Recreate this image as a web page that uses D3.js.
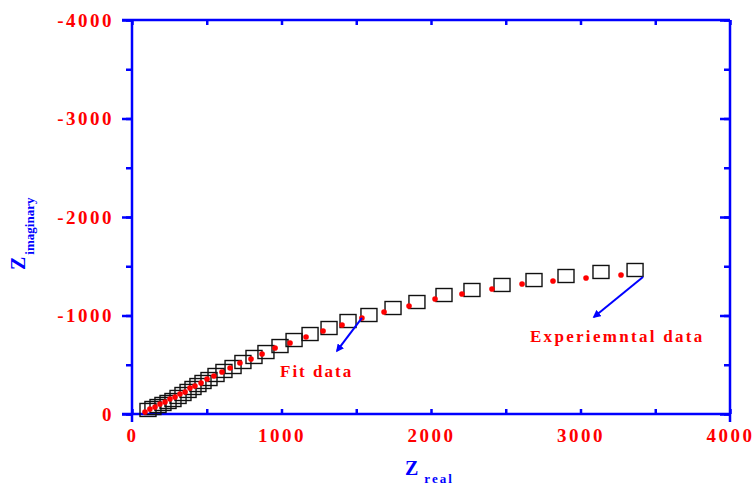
<!DOCTYPE html>
<html lang="en">
  <head>
    <meta charset="utf-8">
    <title>Nyquist plot: experimental and fit data</title>
    <style>
      body { margin: 0; background: #fff; }
      text { font-family: "Liberation Serif", "Times New Roman", serif; font-weight: bold; }
    </style>
  </head>
  <body>
    <div id="viz"></div>
    <script src="https://cdn.jsdelivr.net/npm/d3@7/dist/d3.min.js"></script>
    <script>
      // experimental data (open squares)
      const expReal = [3365, 3137, 2903, 2689, 2475, 2274, 2087, 1906, 1746, 1585, 1445, 1318, 1191, 1084, 990, 896, 816, 742, 676, 615, 562, 515, 475, 441, 408, 375, 341, 308, 274, 241, 207, 174, 140, 107]
      const expImag = [-1462, -1442, -1401, -1360, -1310, -1259, -1208, -1137, -1076, -1005, -944, -873, -812, -751, -690, -629, -579, -528, -477, -437, -396, -355, -325, -294, -264, -234, -203, -173, -142, -122, -102, -81, -61, -41]
      // fit data (red dots)
      const fitReal = [3271, 3037, 2816, 2609, 2408, 2207, 2027, 1853, 1686, 1538, 1405, 1278, 1164, 1057, 957, 870, 796, 722, 656, 602, 548, 502, 462, 421, 388, 355, 321, 288, 254, 221, 187, 154, 120, 87]
      const fitImag = [-1411, -1381, -1350, -1320, -1269, -1218, -1168, -1096, -1036, -975, -904, -843, -782, -721, -670, -609, -558, -518, -467, -426, -386, -355, -315, -284, -264, -223, -203, -173, -152, -122, -102, -71, -51, -20]
      const xTicks = [0, 1000, 2000, 3000, 4000]
      const yTicks = [0, -1000, -2000, -3000, -4000]
      const minorStep = 500

      const width = 755
      const height = 488
      const margin = { top: 20, right: 25, bottom: 74, left: 132 }
      const innerW = width - margin.left - margin.right
      const innerH = height - margin.top - margin.bottom
      const blue = '#0000ff'
      const red = '#ff0000'
      const plain = d => String(d)

      const svg = d3.select('#viz').append('svg').attr('width', width).attr('height', height)
      const g = svg.append('g').attr('transform', `translate(${margin.left},${margin.top})`)

      const x = d3.scaleLinear().domain([0, 4000]).range([0, innerW])
      const y = d3.scaleLinear().domain([0, -4000]).range([innerH, 0])

      const minorX = d3.range(0, 4001, minorStep)
      const minorY = d3.range(0, -4001, -minorStep)

      const styleAxis = sel => {
        sel.selectAll('.domain').remove()
        sel.selectAll('line').attr('stroke', blue).attr('stroke-width', 2.5)
        sel.selectAll('text').attr('fill', red).attr('font-size', 19).style('letter-spacing', '2.5px')
      }

      // left axis: outward ticks
      g.append('g').call(d3.axisLeft(y).tickValues(minorY).tickSize(6).tickFormat('')).call(styleAxis)
      g.append('g').call(d3.axisLeft(y).tickValues(yTicks).tickSize(10).tickPadding(8).tickFormat(plain)).call(styleAxis)
      // right axis: inward ticks
      g.append('g').attr('transform', `translate(${innerW},0)`)
        .call(d3.axisRight(y).tickValues(minorY).tickSize(-6).tickFormat('')).call(styleAxis)
      g.append('g').attr('transform', `translate(${innerW},0)`)
        .call(d3.axisRight(y).tickValues(yTicks).tickSize(-10).tickFormat('')).call(styleAxis)
      // bottom axis: inward ticks
      g.append('g').attr('transform', `translate(0,${innerH})`)
        .call(d3.axisBottom(x).tickValues(minorX).tickSize(-5).tickFormat(''))
        .call(styleAxis)
      g.append('g').attr('transform', `translate(0,${innerH})`)
        .call(d3.axisBottom(x).tickValues(xTicks).tickSize(0).tickPadding(15).tickFormat(plain))
        .call(styleAxis)
      // top axis: inward ticks
      g.append('g').call(d3.axisTop(x).tickValues(minorX).tickSize(-5).tickFormat('')).call(styleAxis)

      // frame
      const frame = g.append('g').attr('stroke', blue).attr('stroke-width', 2.5).attr('fill', 'none')
      frame.append('line').attr('x1', -10).attr('x2', innerW).attr('y1', 0).attr('y2', 0)
      frame.append('line').attr('x1', -10).attr('x2', innerW).attr('y1', innerH).attr('y2', innerH)
      frame.append('line').attr('x1', 0).attr('x2', 0).attr('y1', 0).attr('y2', innerH + 8)
      frame.append('line').attr('x1', innerW).attr('x2', innerW).attr('y1', 0).attr('y2', innerH + 8)

      // experimental squares
      const sqW = 16
      const sqH = 13
      g.append('g').selectAll('rect')
        .data(d3.zip(expReal, expImag))
        .enter()
          .append('rect')
            .attr('x', d => x(d[0]) - sqW / 2)
            .attr('y', d => y(d[1]) - sqH / 2)
            .attr('width', sqW)
            .attr('height', sqH)
            .attr('fill', 'none')
            .attr('stroke', '#111')
            .attr('stroke-width', 1.4)

      // fit dots
      g.append('g').selectAll('circle')
        .data(d3.zip(fitReal, fitImag))
        .enter()
          .append('circle')
            .attr('cx', d => x(d[0]))
            .attr('cy', d => y(d[1]))
            .attr('r', 2.8)
            .attr('fill', red)

      // annotation arrows
      svg.append('defs').append('marker')
        .attr('id', 'head')
        .attr('viewBox', '0 0 10 10')
        .attr('refX', 8).attr('refY', 5)
        .attr('markerWidth', 4).attr('markerHeight', 4)
        .attr('orient', 'auto')
        .append('path').attr('d', 'M0,0 L10,5 L0,10 z').attr('fill', blue)

      const arrows = [
        { from: [1538, -975], to: [1371, -640] },
        { from: [3418, -1391], to: [3090, -985] }
      ]
      g.append('g').selectAll('line')
        .data(arrows)
        .enter()
          .append('line')
            .attr('x1', d => x(d.from[0])).attr('y1', d => y(d.from[1]))
            .attr('x2', d => x(d.to[0])).attr('y2', d => y(d.to[1]))
            .attr('stroke', blue)
            .attr('stroke-width', 2)
            .attr('marker-end', 'url(#head)')

      g.append('text').attr('x', x(990)).attr('y', y(-376))
        .attr('fill', red).attr('font-size', 17).style('letter-spacing', '2px')
        .text('Fit data')
      g.append('text').attr('x', x(2662)).attr('y', y(-731))
        .attr('fill', red).attr('font-size', 17).style('letter-spacing', '2.3px')
        .text('Experiemntal data')

      // axis titles
      const xt = svg.append('text').attr('x', 405).attr('y', 475).attr('fill', blue).attr('font-size', 20)
      xt.append('tspan').text('Z')
      xt.append('tspan').attr('dx', 6).attr('dy', 8).attr('font-size', 13).style('letter-spacing', '2px').text('real')

      const yt = svg.append('text').attr('transform', 'translate(25,270) rotate(-90)').attr('fill', blue).attr('font-size', 20)
      yt.append('tspan').text('Z')
      yt.append('tspan').attr('dx', 2).attr('dy', 9).attr('font-size', 13).text('imaginary')
    </script>
  </body>
</html>
